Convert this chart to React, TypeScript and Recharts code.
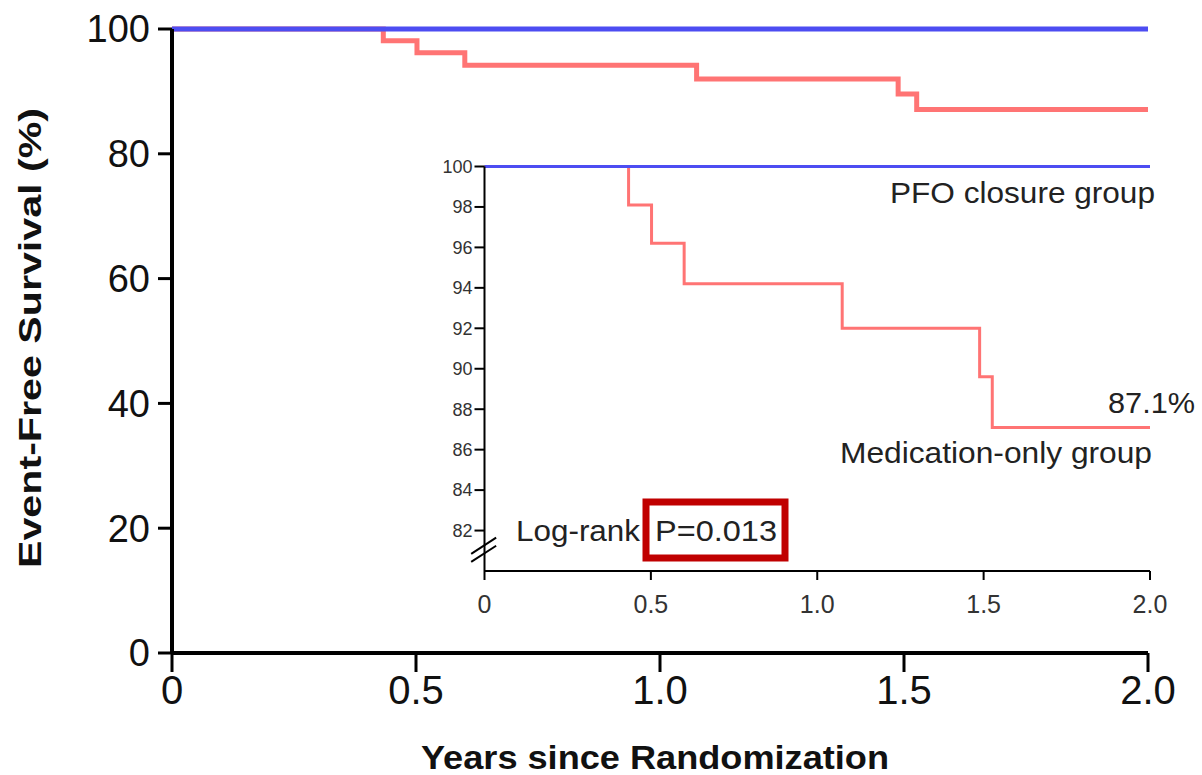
import React from 'react';
import { LineChart, Line, XAxis, YAxis, ReferenceLine } from 'recharts';

// ---- data ----
const eventYears = [0, 0.433, 0.502, 0.6, 1.075, 1.488, 1.526, 2.0];
const medicationSurvival = [100, 98.1, 96.2, 94.2, 92.0, 89.6, 87.1, 87.1];
const pfoYears = [0, 2.0];
const pfoSurvival = [100, 100];

const xTicks = [0, 0.5, 1.0, 1.5, 2.0];
const xTickLabels = ['0', '0.5', '1.0', '1.5', '2.0'];
const mainYTicks = [0, 20, 40, 60, 80, 100];
const insetYTicks = [82, 84, 86, 88, 90, 92, 94, 96, 98, 100];
const insetYDomain = [80, 100];

const medicationData = eventYears.map((t, i) => ({ t, s: medicationSurvival[i] }));
const pfoData = pfoYears.map((t, i) => ({ t, s: pfoSurvival[i] }));

const FONT = '"Liberation Sans", Arial, sans-serif';
const BLUE = '#4d4df2';
const RED = '#ff7474';

const fmtX = (v: number) => {
  const i = xTicks.findIndex((x) => Math.abs(x - v) < 1e-9);
  return i >= 0 ? xTickLabels[i] : String(v);
};

export default function App() {
  return (
    <div style={{ position: 'absolute', left: 0, top: 0, width: 1202, height: 775, background: '#fff', overflow: 'hidden' }}>
      {/* main chart */}
      <div style={{ position: 'absolute', left: 0, top: 0 }}>
        <LineChart width={1202} height={775} margin={{ top: 29, right: 54, bottom: 0, left: 0 }}>
          <XAxis
            type="number"
            dataKey="t"
            domain={[0, 2]}
            ticks={xTicks}
            tickFormatter={fmtX}
            height={122}
            tickSize={19}
            tickMargin={4}
            axisLine={{ stroke: '#000', strokeWidth: 4 }}
            tickLine={{ stroke: '#000', strokeWidth: 3 }}
            tick={{ fontSize: 40, fill: '#111', fontFamily: FONT }}
          />
          <YAxis
            type="number"
            domain={[0, 100]}
            ticks={mainYTicks}
            width={172}
            tickSize={14}
            tickMargin={8}
            axisLine={{ stroke: '#000', strokeWidth: 4 }}
            tickLine={{ stroke: '#000', strokeWidth: 3 }}
            tick={{ fontSize: 38, fill: '#111', fontFamily: FONT }}
          />
          <Line data={medicationData} dataKey="s" type="stepAfter" stroke={RED} strokeWidth={5} dot={false} isAnimationActive={false} />
          <Line data={pfoData} dataKey="s" type="stepAfter" stroke={BLUE} strokeWidth={5} dot={false} isAnimationActive={false} />
        </LineChart>
      </div>

      {/* inset chart */}
      <div style={{ position: 'absolute', left: 400, top: 140 }}>
        <LineChart width={790} height={480} margin={{ top: 26.5, right: 40, bottom: 0, left: 0 }}>
          <XAxis
            type="number"
            dataKey="t"
            domain={[0, 2]}
            ticks={xTicks}
            tickFormatter={(v: number) => fmtX(v)}
            height={49}
            tickSize={9}
            tickMargin={15}
            axisLine={{ stroke: '#000', strokeWidth: 2 }}
            tickLine={{ stroke: '#000', strokeWidth: 2 }}
            tick={{ fontSize: 25, fill: '#333', fontFamily: FONT }}
          />
          <YAxis
            type="number"
            domain={insetYDomain}
            ticks={insetYTicks}
            width={84.5}
            tickSize={10}
            tickMargin={2}
            axisLine={{ stroke: '#000', strokeWidth: 2 }}
            tickLine={{ stroke: '#000', strokeWidth: 2 }}
            tick={{ fontSize: 18, fill: '#333', fontFamily: FONT }}
          />
          <ReferenceLine
            segment={[{ x: -0.04, y: 80.45 }, { x: 0.035, y: 81.25 }]}
            stroke="#000"
            strokeWidth={2}
            ifOverflow="visible"
          />
          <ReferenceLine
            segment={[{ x: -0.04, y: 80.85 }, { x: 0.035, y: 81.65 }]}
            stroke="#000"
            strokeWidth={2}
            ifOverflow="visible"
          />
          <Line data={medicationData} dataKey="s" type="stepAfter" stroke={RED} strokeWidth={3} dot={false} isAnimationActive={false} />
          <Line data={pfoData} dataKey="s" type="stepAfter" stroke={BLUE} strokeWidth={3} dot={false} isAnimationActive={false} />
        </LineChart>
      </div>

      {/* annotations */}
      <svg width={1202} height={775} style={{ position: 'absolute', left: 0, top: 0, pointerEvents: 'none' }}>
        <text x={655} y={760} textAnchor="middle" dominantBaseline="middle" fontFamily={FONT} fontWeight="bold" fontSize={34} fill="#111" textLength={468} lengthAdjust="spacingAndGlyphs">
          Years since Randomization
        </text>
        <text
          transform="translate(33,338) rotate(-90)"
          textAnchor="middle"
          dominantBaseline="middle"
          fontFamily={FONT}
          fontWeight="bold"
          fontSize={31}
          fill="#111"
          textLength={460}
          lengthAdjust="spacingAndGlyphs"
        >
          Event-Free Survival (%)
        </text>
        <text x={890} y={203} fontFamily={FONT} fontSize={29} fill="#222" textLength={265} lengthAdjust="spacingAndGlyphs">PFO closure group</text>
        <text x={1108} y={413} fontFamily={FONT} fontSize={29} fill="#222" textLength={87} lengthAdjust="spacingAndGlyphs">87.1%</text>
        <text x={840} y={463} fontFamily={FONT} fontSize={29} fill="#222" textLength={312} lengthAdjust="spacingAndGlyphs">Medication-only group</text>
        <text x={516} y={541} fontFamily={FONT} fontSize={30} fill="#222" textLength={124} lengthAdjust="spacingAndGlyphs">Log-rank</text>
        <text x={655} y={541} fontFamily={FONT} fontSize={30} fill="#222" textLength={122} lengthAdjust="spacingAndGlyphs">P=0.013</text>
        <rect x={646} y={502} width={139} height={56} fill="none" stroke="#c00000" strokeWidth={7} />
      </svg>
    </div>
  );
}
